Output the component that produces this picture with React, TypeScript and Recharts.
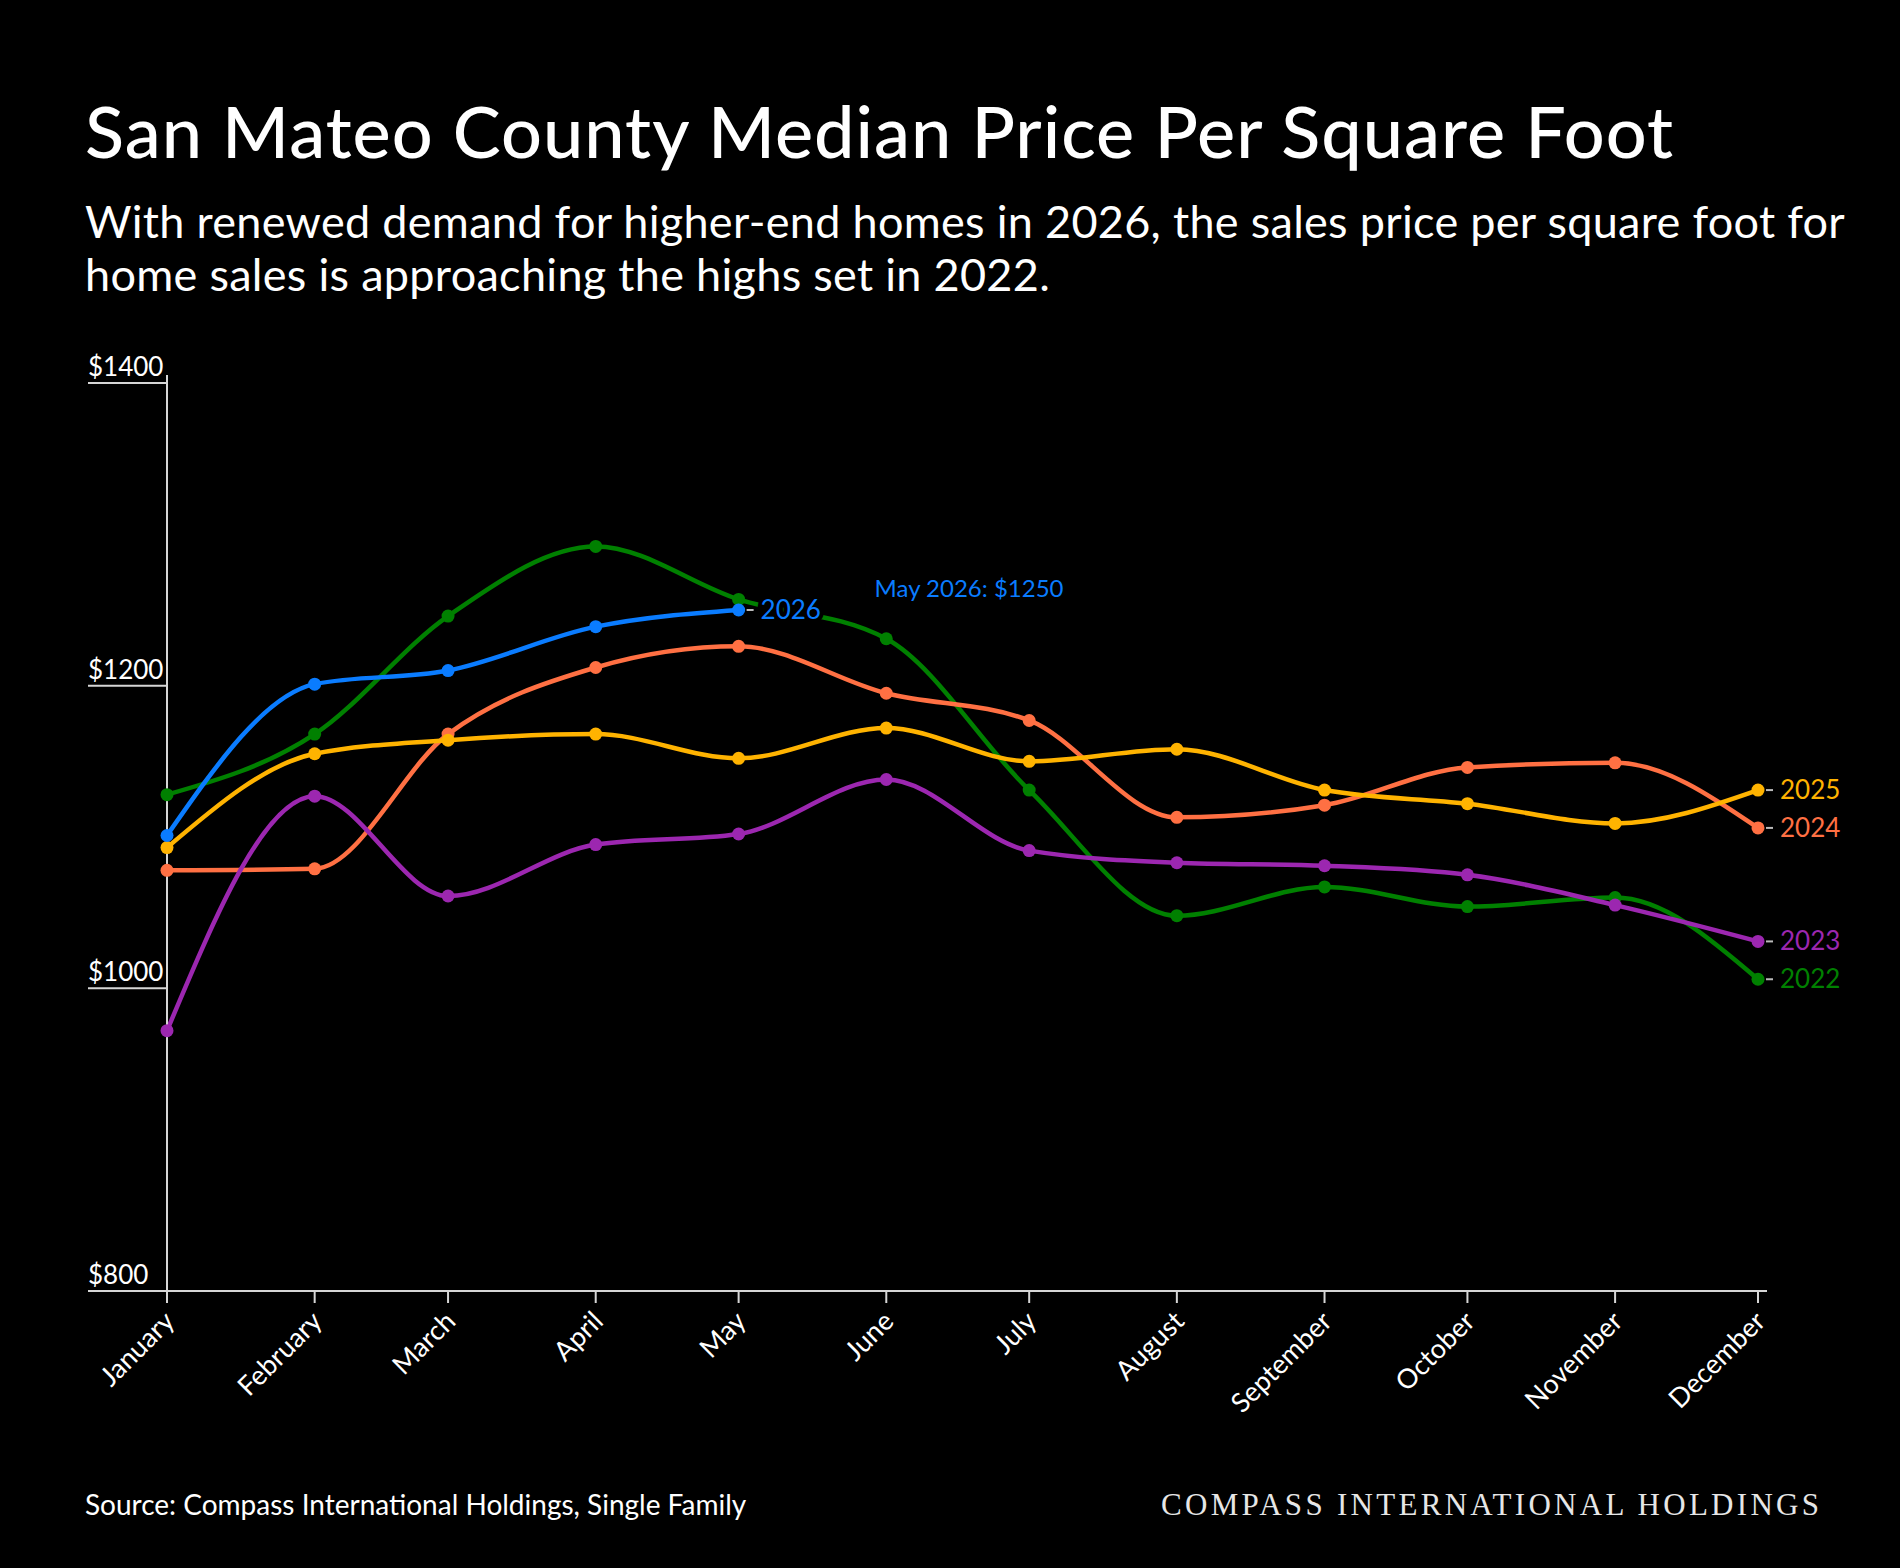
import React from "react";
import { LineChart, Line, XAxis, YAxis } from "recharts";

// months are placed on a day-of-year axis, so spacing follows month length
const MONTHS = [
  "January",
  "February",
  "March",
  "April",
  "May",
  "June",
  "July",
  "August",
  "September",
  "October",
  "November",
  "December",
];
const MONTH_START_DAY = [0, 31, 59, 90, 120, 151, 181, 212, 243, 273, 304, 334];

const PRICE_2022 = [1128, 1168, 1246, 1292, 1257, 1231, 1131, 1048, 1067, 1054, 1060, 1006];
const PRICE_2023 = [972, 1127, 1061, 1095, 1102, 1138, 1091, 1083, 1081, 1075, 1055, 1031];
const PRICE_2024 = [1078, 1079, 1168, 1212, 1226, 1195, 1177, 1113, 1121, 1146, 1149, 1106];
const PRICE_2025 = [1093, 1155, 1164, 1168, 1152, 1172, 1150, 1158, 1131, 1122, 1109, 1131];
const PRICE_2026 = [1101, 1201, 1210, 1239, 1250];

const Y_TICKS = [800, 1000, 1200, 1400];

const FONT = "Lato, 'Noto Sans', sans-serif";
const AXIS_COLOR = "#d6d6d6";

// drawing order: later entries sit on top
const SERIES = [
  { key: "y2022", year: "2022", color: "#008000", values: PRICE_2022 },
  { key: "y2024", year: "2024", color: "#ff7043", values: PRICE_2024 },
  { key: "y2023", year: "2023", color: "#9c27b0", values: PRICE_2023 },
  { key: "y2025", year: "2025", color: "#ffb300", values: PRICE_2025 },
  { key: "y2026", year: "2026", color: "#0a7cff", values: PRICE_2026 },
];

const data = MONTHS.map((month, i) => {
  const row: any = { month, day: MONTH_START_DAY[i] };
  SERIES.forEach((s) => {
    row[s.key] = s.values[i];
  });
  return row;
});

const PriceTick = ({ x, y, payload }: any) => (
  <g>
    <line x1={x - 79} x2={x} y1={y} y2={y} stroke={AXIS_COLOR} strokeWidth={2} />
    <text x={x - 79} y={y - 7} fill="#fff" fontSize={26} fontFamily={FONT}>
      ${payload.value}
    </text>
  </g>
);

const MonthTick = ({ x, y, payload }: any) => {
  const idx = MONTH_START_DAY.indexOf(payload.value);
  return (
    <g transform={`translate(${x + 9},${y + 20})`}>
      <text
        transform="rotate(-45)"
        textAnchor="end"
        fill="#fff"
        fontSize={27}
        fontFamily={FONT}
      >
        {MONTHS[idx]}
      </text>
    </g>
  );
};

// dot renderer that also writes the year tag after the last point
const makeDot = (series: any) => (props: any) => {
  const { cx, cy, index, value } = props;
  if (typeof cx !== "number" || typeof cy !== "number" || value == null) {
    return <g key={`${series.key}-${index}`} />;
  }
  const last = index === series.values.length - 1;
  return (
    <g key={`${series.key}-${index}`}>
      <circle cx={cx} cy={cy} r={6.5} fill={series.color} />
      {last && (
        <g>
          <line x1={cx + 8} x2={cx + 15} y1={cy} y2={cy} stroke="#bbb" strokeWidth={2} />
          <text
            x={cx + 22}
            y={cy + 9}
            fill={series.color}
            fontSize={26}
            fontFamily={FONT}
            stroke="#000"
            strokeWidth={8}
            paintOrder="stroke"
          >
            {series.year}
          </text>
          {series.year === "2026" && (
            <text
              x={cx + 136}
              y={cy - 13}
              fill={series.color}
              fontSize={24}
              fontFamily={FONT}
            >
              {`${MONTHS[index]} ${series.year}: $${value}`}
            </text>
          )}
        </g>
      )}
    </g>
  );
};

export default function App() {
  return (
    <div
      style={{
        position: "absolute",
        left: 0,
        top: 0,
        width: 1900,
        height: 1568,
        background: "#000",
        overflow: "hidden",
      }}
    >
      <svg
        width={1900}
        height={1568}
        style={{ position: "absolute", left: 0, top: 0 }}
      >
        <text
          x={85}
          y={158}
          fill="#fff"
          fontSize={72}
          fontWeight={500}
          letterSpacing={1}
          fontFamily={FONT}
        >
          San Mateo County Median Price Per Square Foot
        </text>
        <text x={85} y={238} fill="#fff" fontSize={45} letterSpacing={0.3} fontFamily={FONT}>
          With renewed demand for higher-end homes in 2026, the sales price per square foot for
        </text>
        <text x={85} y={291} fill="#fff" fontSize={45} letterSpacing={0.3} fontFamily={FONT}>
          home sales is approaching the highs set in 2022.
        </text>
        <text x={85} y={1515} fill="#fff" fontSize={28} fontFamily={FONT}>
          Source: Compass International Holdings, Single Family
        </text>
        <text
          x={1161}
          y={1515}
          fill="#e6e6e6"
          fontSize={31}
          fontFamily="'Liberation Serif', 'DejaVu Serif', serif"
          textLength={658}
          lengthAdjust="spacing"
        >
          COMPASS INTERNATIONAL HOLDINGS
        </text>
      </svg>
      <div style={{ position: "absolute", left: 0, top: 0 }}>
        <LineChart
          width={1900}
          height={1568}
          data={data}
          margin={{ top: 375, right: 133, bottom: 217, left: 87 }}
        >
          <XAxis
            dataKey="day"
            type="number"
            domain={[0, 334]}
            ticks={MONTH_START_DAY}
            interval={0}
            padding={{ left: 0, right: 9 }}
            height={60}
            stroke={AXIS_COLOR}
            axisLine={{ stroke: AXIS_COLOR, strokeWidth: 2 }}
            tickLine={{ stroke: AXIS_COLOR, strokeWidth: 2 }}
            tickSize={12}
            tickMargin={0}
            tick={<MonthTick />}
          />
          <YAxis
            type="number"
            domain={[800, 1400]}
            ticks={Y_TICKS}
            interval={0}
            width={80}
            padding={{ top: 8, bottom: 0 }}
            axisLine={{ stroke: AXIS_COLOR, strokeWidth: 2 }}
            tickLine={false}
            tickSize={0}
            tickMargin={0}
            tick={<PriceTick />}
          />
          {SERIES.map((s) => (
            <Line
              key={s.key}
              dataKey={s.key}
              type="monotone"
              stroke={s.color}
              strokeWidth={4.5}
              dot={makeDot(s)}
              activeDot={false}
              isAnimationActive={false}
            />
          ))}
        </LineChart>
      </div>
    </div>
  );
}
